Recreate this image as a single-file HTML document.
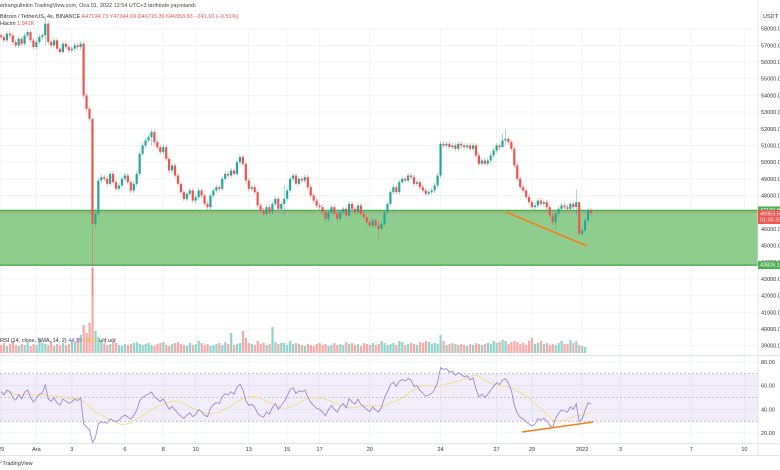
<!DOCTYPE html>
<html><head><meta charset="utf-8">
<style>
html,body{margin:0;padding:0;background:#fff;}
svg{display:block;font-family:"Liberation Sans",sans-serif;}
</style></head>
<body>
<svg id="chart" width="780" height="470" viewBox="0 0 780 470" xmlns="http://www.w3.org/2000/svg">
  <rect width="780" height="470" fill="#fff"/>
  <g id="grid"></g>
  <rect x="0" y="374" width="758" height="47" fill="#7e57c2" fill-opacity="0.1"/>
  <g id="zone"></g>
  <g id="vol"></g>
  <g id="candles"></g>
  <g id="rsi"></g>
  <line x1="506" y1="212" x2="587" y2="246" stroke="#f57c1f" stroke-width="1.6"/>
  <line x1="522" y1="432" x2="593" y2="422" stroke="#f57c1f" stroke-width="1.6"/>
  <line x1="758" y1="0" x2="758" y2="456" stroke="#e0e3eb" stroke-width="1"/>
  <line x1="0" y1="355.5" x2="780" y2="355.5" stroke="#e0e3eb" stroke-width="1"/>
  <line x1="0" y1="443.5" x2="780" y2="443.5" stroke="#e0e3eb" stroke-width="1"/>
  <line x1="0" y1="455.5" x2="780" y2="455.5" stroke="#e0e3eb" stroke-width="1"/>
  <g id="axis" font-size="5.5" fill="#333"></g>
  <g id="taxis" font-size="5.5" fill="#333"></g>
  <text x="0" y="7" font-size="5.5" fill="#444">erkangultekin TradingView.com, Oca 01, 2022 12:54 UTC+3 tarihinde yayınlandı</text>
  <text x="0" y="18" font-size="5.5" fill="#333">Bitcoin / TetherUS, 4s, BINANCE <tspan fill="#ef5350">A47194.73 Y47344.69 D46715.39 K46953.63 −241.10 (−0.51%)</tspan></text>
  <text x="0" y="25" font-size="5.5" fill="#333">Hacim <tspan fill="#ef5350">1.941K</tspan></text>
  <text x="0" y="342" font-size="5.5" fill="#333">RSI (14, close, SMA, 14, 2) <tspan fill="#7e57c2">44.39</tspan> <tspan fill="#e6c229">41.15</tspan> u/d u/d</text>
  <text x="0" y="465" font-size="5.5" fill="#333">⁄ TradingView</text>
</svg>
<script>
const closes=[57500,57300,57700,57600,57200,57000,57400,
57100,57600,57800,57300,56900,57200,57500,57600,58300,
57200,
57000,57300,56800,56600,57100,56900,56700,56800,57000,56900,57100,
54000,53200,52600,46300,46900,48900,
49100,49000,48700,49300,48800,48400,48600,49000,49200,48800,48300,48700,
49300,50500,51000,51300,51500,51800,51200,
50900,50600,50900,50200,49500,49800,49200,48700,
48200,47800,48100,48300,47700,47900,48300,48000,47500,47300,48000,48300,
48500,48400,49000,49300,49200,49500,49300,50000,50300,49900,
48900,48400,48500,48200,47400,47100,
46900,47300,47000,47500,47800,47200,47500,47800,
48300,49000,49200,48700,49000,48900,49100,48500,
48000,47700,47400,47300,47000,46600,47000,47300,
46900,46600,47000,47200,46800,47500,
47200,47000,47400,46900,46700,46400,46200,46500,
46200,46000,46300,47000,47500,
48200,48500,48200,48800,
49000,48900,49200,49100,48700,48800,48500,48300,48100,48200,48300,48600,49200,
51100,
51000,51100,50900,51000,50800,51100,51000,50900,51000,50800,51000,
50400,49900,50100,49900,50100,
50400,50700,51000,50900,51300,51400,
51200,50800,49800,49000,48500,48300,47900,
47600,47300,47400,47700,47500,47600,
47300,46800,46400,46900,
47200,47400,47300,47200,47500,47300,47600,
45700,45900,46500,47100,46953];
const bigWickIdx=[15,31,32,51,96,128,170,171,188,195,196];
const bigWickLow=[57000,42000,46000,51000,46700,45400,51000,51000,46000,46800,45600];
const bigWickHigh=[58700,52100,47200,52000,48600,46500,51700,52000,47000,48400,47300];
const volumes=[8,10,7,9,12,8,7,9,8,11,7,9,8,14,10,9,8,12,7,9,8,10,8,9,13,11,15,18,28,20,30,85,22,16,12,10,8,9,12,10,8,7,9,8,9,10,11,9,8,9,10,8,7,9,10,11,8,7,9,10,11,9,8,7,10,8,9,12,10,8,9,7,8,9,10,8,11,9,20,8,9,10,22,15,10,9,8,12,9,10,8,9,26,11,9,10,10,8,12,9,10,9,8,7,9,8,7,9,10,8,9,7,8,10,8,9,8,11,9,10,8,9,7,10,9,8,10,8,9,12,10,8,9,10,8,12,11,8,9,10,9,8,11,10,12,11,9,10,9,18,12,8,9,10,9,8,9,8,7,9,8,10,9,8,9,10,9,12,10,11,13,12,9,11,12,11,9,10,8,12,15,9,10,12,9,10,8,9,8,10,12,9,9,13,10,12,8,7,6];
const priceTicks=[58000,57000,56000,55000,54000,53000,52000,51000,50000,49000,48000,47000,46000,45000,44000,43000,42000,41000,40000,39000];
const rsiTicks=[80,60,40,20];
const timeLabels=["29","Ara","3","6","8","10","13","15","17","20","24","27","29","2022","3","7","10"];
const timeIdx=[0,12,24,42,55,66,84,97,108,125,149,168,180,197,210,234,252];
const zoneTop=47100.85, zoneBot=43826.10, lastPrice=46953.63;

const NS="http://www.w3.org/2000/svg";
const X=i=>1+i*2.95;
const Y=p=>28.7+(58000-p)*0.01668;
const RY=v=>362+(80-v)*1.183;
const VBASE=353;
function mk(tag,attrs,parent){const e=document.createElementNS(NS,tag);for(const k in attrs)e.setAttribute(k,attrs[k]);parent.appendChild(e);return e;}
const grid=document.getElementById('grid');
priceTicks.forEach(p=>{mk('line',{x1:0,x2:758,y1:Y(p),y2:Y(p),stroke:'#f0f3fa','stroke-width':1},grid);});
rsiTicks.forEach(v=>{mk('line',{x1:0,x2:758,y1:RY(v),y2:RY(v),stroke:'#f0f3fa','stroke-width':1},grid);});
timeIdx.forEach(i=>{mk('line',{x1:X(i),x2:X(i),y1:28,y2:443,stroke:'#f0f3fa','stroke-width':1},grid);});

const zone=document.getElementById('zone');
const zr=mk('rect',{x:0,y:Y(zoneTop),width:758,height:Y(zoneBot)-Y(zoneTop),fill:'#8fcd8f'},zone);


mk('line',{x1:0,x2:758,y1:Y(zoneTop),y2:Y(zoneTop),stroke:'#4caf50','stroke-width':1.5},zone);
mk('line',{x1:0,x2:758,y1:Y(zoneBot),y2:Y(zoneBot),stroke:'#4caf50','stroke-width':1.5},zone);
mk('line',{x1:0,x2:758,y1:Y(lastPrice),y2:Y(lastPrice),stroke:'#ef5350','stroke-width':0.6,'stroke-dasharray':'1,1'},zone);

const vol=document.getElementById('vol'), cg=document.getElementById('candles');
for(let i=0;i<closes.length;i++){
  const c=closes[i], o=i>0?closes[i-1]:c+100;
  const up=c>=o, col=up?'#26a69a':'#ef5350';
  let hi=Math.max(o,c)+150, lo=Math.min(o,c)-150;
  const k=bigWickIdx.indexOf(i); if(k>=0){hi=bigWickHigh[k];lo=bigWickLow[k];}
  const vb=mk('rect',{x:X(i)-1,y:VBASE-volumes[i],width:2.2,height:volumes[i],fill:up?'#8fd3cb':'#f7a9a7'},vol);
  
  
  const w=mk('line',{x1:X(i),x2:X(i),y1:Y(hi),y2:Y(lo),stroke:col,'stroke-width':0.6,'stroke-opacity':0.7},cg);
  
  
  const b=mk('rect',{x:X(i)-1.1,y:Y(Math.max(o,c)),width:2.2,height:Math.max(0.6,Math.abs(Y(o)-Y(c))),fill:col},cg);
  
  
}

// RSI(14) (Wilder smoothing, seeded neutral) computed from closes, plus SMA14
const rsiVals=[55];let ag=180,al=150;
for(let i=1;i<closes.length;i++){
  const d=closes[i]-closes[i-1],g=Math.max(d,0),l=Math.max(-d,0);
  ag=(ag*13+g)/14;al=(al*13+l)/14;
  rsiVals[i]=al===0?100:100-100/(1+ag/al);
}
const rg=document.getElementById('rsi');
[70,50,30].forEach(v=>mk('line',{x1:0,x2:758,y1:RY(v),y2:RY(v),stroke:'#9e9ab8','stroke-width':0.6,'stroke-dasharray':'2,2'},rg));
let pr='',ps='';
for(let i=0;i<closes.length;i++){pr+=(pr?'L':'M')+X(i).toFixed(1)+','+RY(rsiVals[i]).toFixed(1);
  let s=0,n=0;for(let j=Math.max(0,i-13);j<=i;j++){s+=rsiVals[j];n++;}
  ps+=(ps?'L':'M')+X(i).toFixed(1)+','+RY(s/n).toFixed(1);}
const sl=mk('path',{d:ps,fill:'none',stroke:'#f3dc8a','stroke-width':0.9},rg);


const rl=mk('path',{d:pr,fill:'none',stroke:'#9b86d6','stroke-width':0.9},rg);



const ax=document.getElementById('axis');
priceTicks.forEach(p=>{const t=mk('text',{x:761,y:Y(p)+2},ax);t.textContent=p.toFixed(2);
  
  });
rsiTicks.forEach(v=>{const t=mk('text',{x:761,y:RY(v)+2},ax);t.textContent=v.toFixed(2);
  
  });
mk('rect',{x:761,y:12,width:16,height:8,fill:'#fff',stroke:'#ccc','stroke-width':0.5,rx:1},ax);
const ut=mk('text',{x:763,y:18},ax);ut.textContent='USDT';
function tag(p,txt,fill,h){mk('rect',{x:758,y:Y(p)-4,width:22,height:h,fill:fill},ax);
  const t=mk('text',{x:760,y:Y(p)+1.5,fill:'#fff'},ax);t.textContent=txt;}
tag(zoneTop,zoneTop.toFixed(2),'#4caf50',8);
tag(zoneBot,zoneBot.toFixed(2),'#4caf50',8);
mk('rect',{x:758,y:Y(lastPrice)-3,width:22,height:14,fill:'#ef5350'},ax);
const lt=mk('text',{x:760,y:Y(lastPrice)+2.5,fill:'#fff'},ax);lt.textContent=lastPrice.toFixed(2);
const lt2=mk('text',{x:760,y:Y(lastPrice)+8.5,fill:'#fff'},ax);lt2.textContent='01:05:39';

const tx=document.getElementById('taxis');
timeLabels.forEach((s,k)=>{const t=mk('text',{x:X(timeIdx[k]),y:451,'text-anchor':'middle'},tx);t.textContent=s;
  
  });
</script>
</body></html>
